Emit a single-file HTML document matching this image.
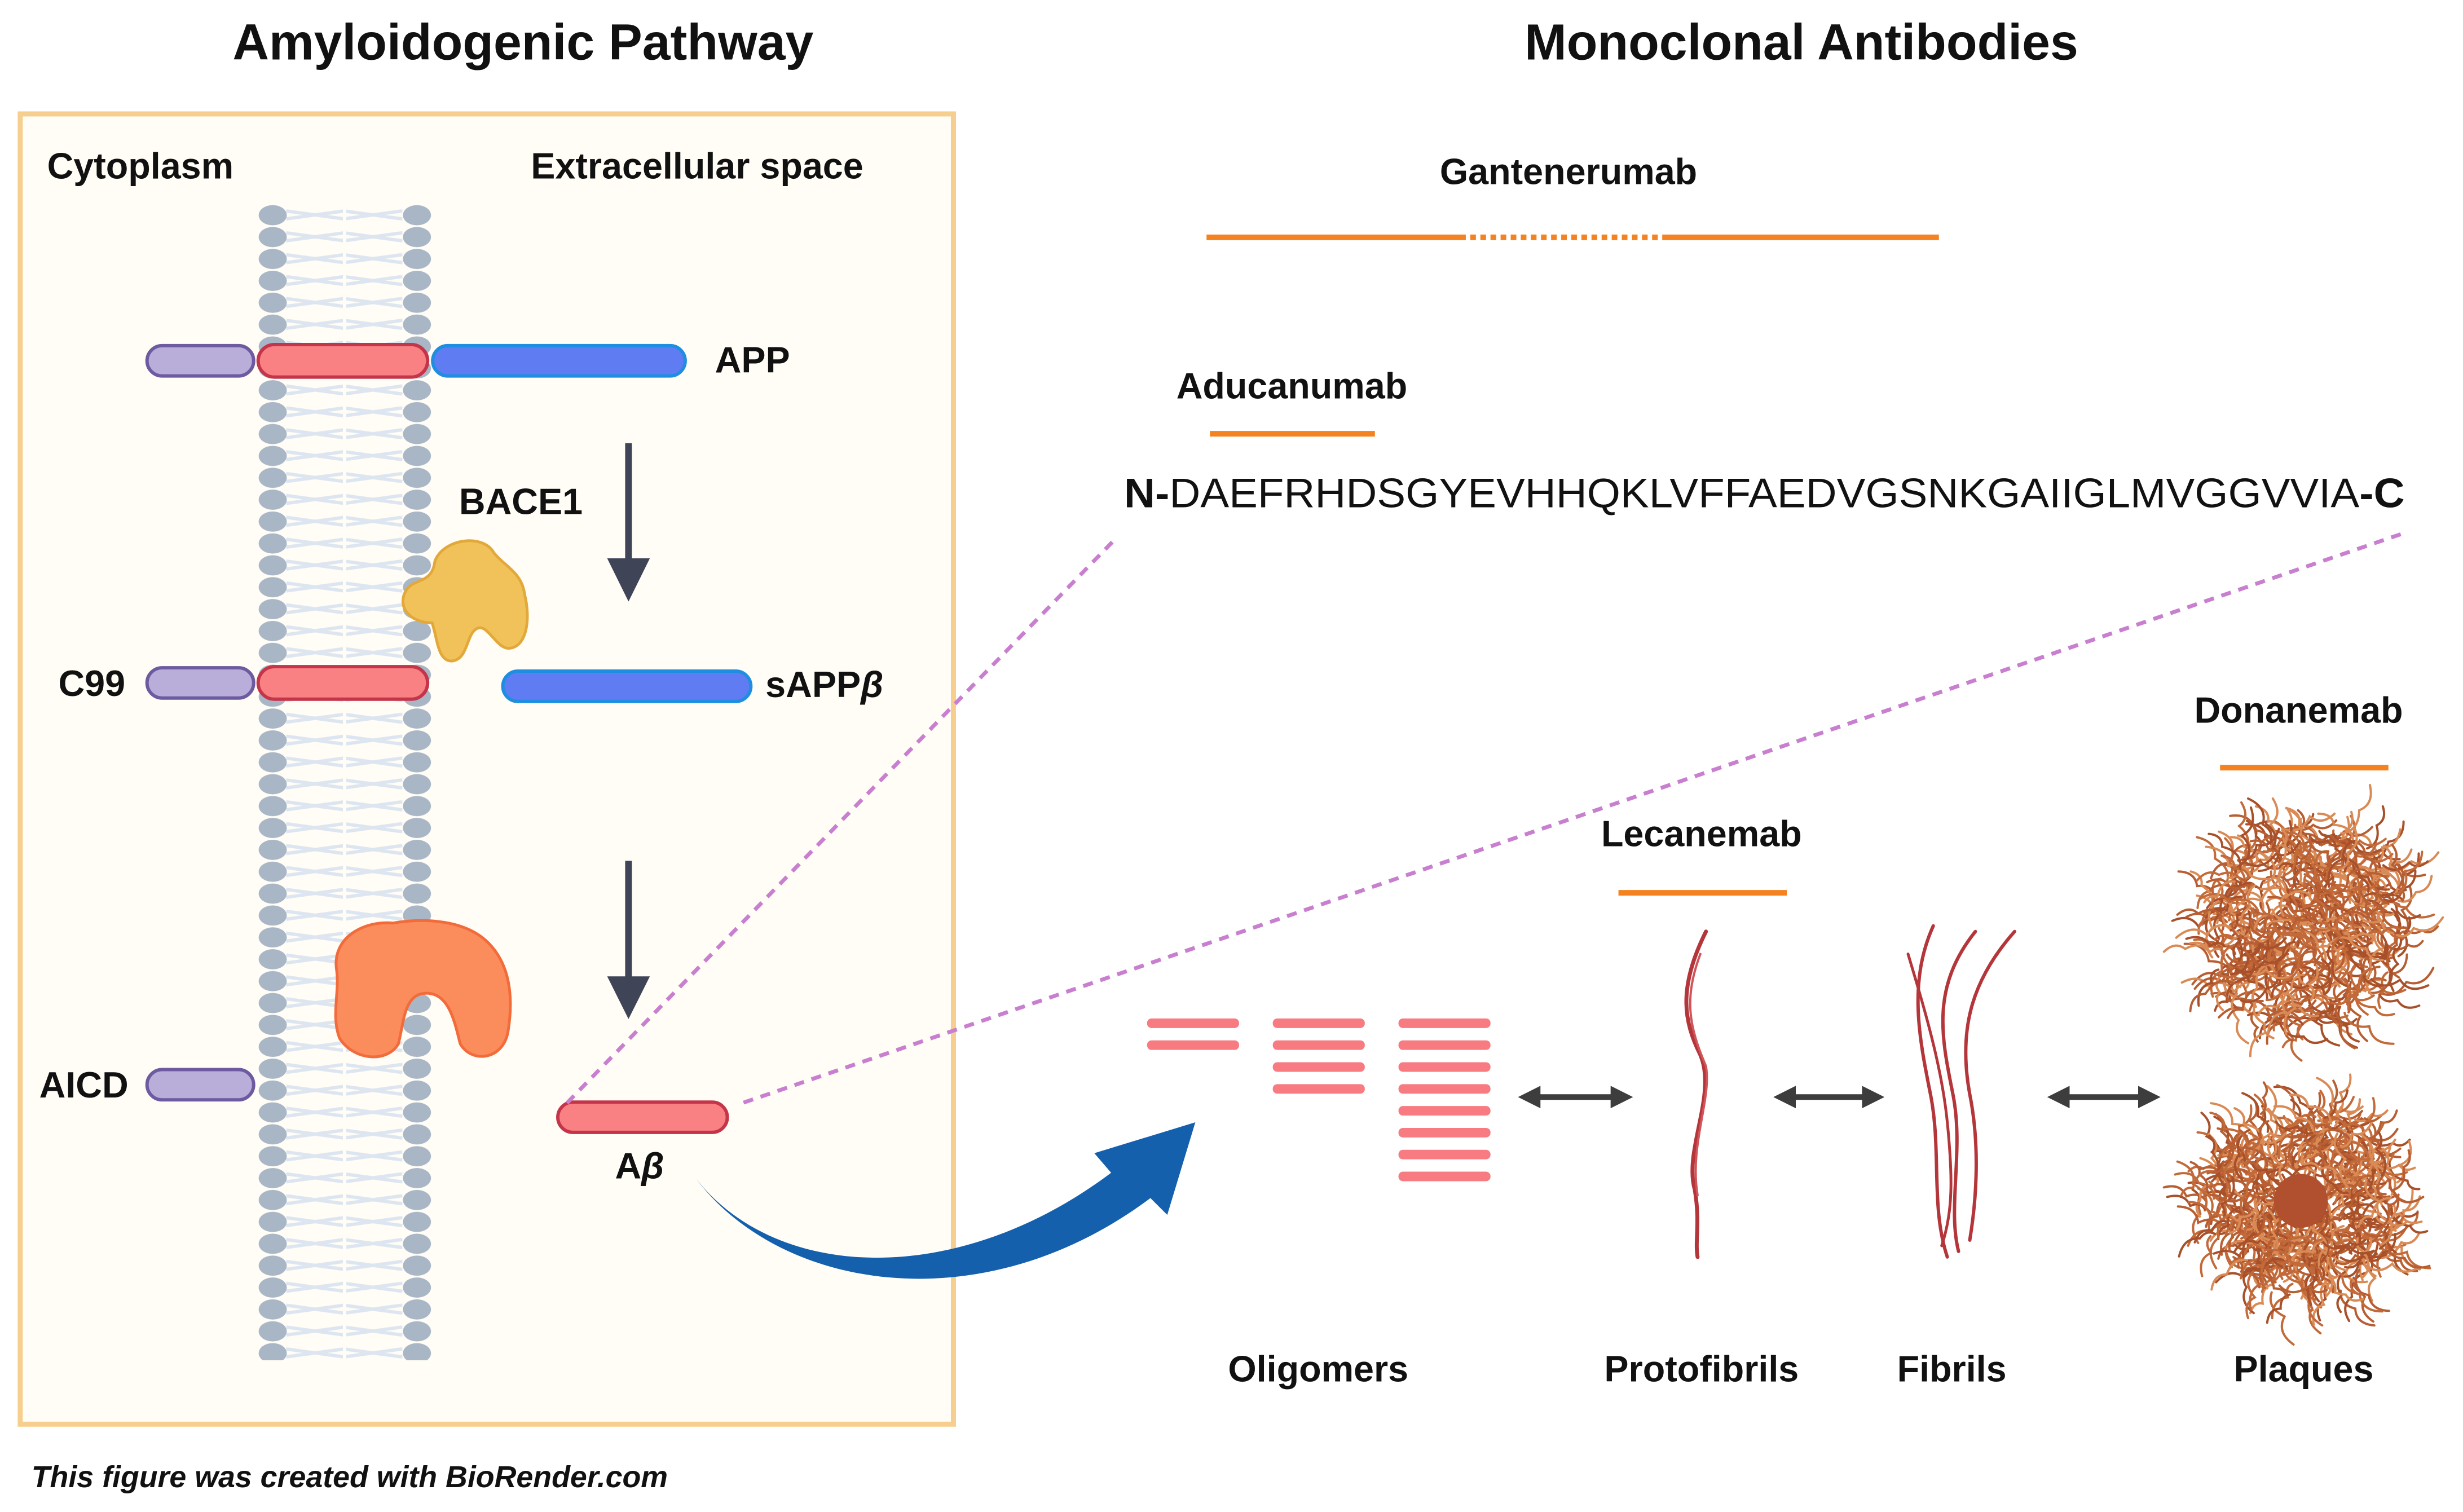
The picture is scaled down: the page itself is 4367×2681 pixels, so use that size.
<!DOCTYPE html>
<html><head><meta charset="utf-8"><style>
html,body{margin:0;padding:0;background:#fff}
svg{display:block}
text{font-family:"Liberation Sans",sans-serif}
</style></head><body>
<svg id="s" width="4367" height="2681" viewBox="0 0 4367 2681" xmlns="http://www.w3.org/2000/svg">
<defs>
<pattern id="beadsL" x="456" y="364" width="60" height="39" patternUnits="userSpaceOnUse">
<ellipse cx="30" cy="19.5" rx="25" ry="18" fill="#a9b6c6"/>
</pattern>
<pattern id="beadsR" x="713" y="364" width="60" height="39" patternUnits="userSpaceOnUse">
<ellipse cx="30" cy="19.5" rx="25" ry="18" fill="#a9b6c6"/>
</pattern>
<pattern id="tails" x="510" y="364" width="103" height="39" patternUnits="userSpaceOnUse">
<path d="M0 12 L103 26 M0 26 L103 12" stroke="#dde6f0" stroke-width="6"/>
</pattern>
<marker id="ah" viewBox="0 0 10 10" refX="5" refY="5" markerWidth="4" markerHeight="4" orient="auto-start-reverse"><path d="M0 0 L10 5 L0 10 z" fill="#3d3d3d"/></marker>
</defs>
<g transform="scale(0.995)">
<text x="932" y="106" font-size="90" font-weight="bold" text-anchor="middle" fill="#111">Amyloidogenic Pathway</text>
<text x="3210" y="106" font-size="90" font-weight="bold" text-anchor="middle" fill="#111">Monoclonal Antibodies</text>
<rect x="36" y="203" width="1663" height="2335" fill="#fffdf6" stroke="#f6cf8e" stroke-width="9"/>
<text x="84" y="318" font-size="65" font-weight="bold" fill="#111">Cytoplasm</text>
<text x="946" y="318" font-size="65" font-weight="bold" fill="#111">Extracellular space</text>
<rect x="510" y="364" width="207" height="2060" fill="url(#tails)"/>
<rect x="611" y="364" width="6" height="2060" fill="#fffdf6"/>
<rect x="456" y="364" width="60" height="2060" fill="url(#beadsL)"/>
<rect x="713" y="364" width="60" height="2060" fill="url(#beadsR)"/>
<g stroke-width="6">
<rect x="262" y="616" width="190" height="54" rx="27" fill="#b9aed9" stroke="#6d5aa0"/>
<rect x="460" y="614" width="302" height="58" rx="29" fill="#f98083" stroke="#c4354a"/>
<rect x="771" y="616" width="450" height="54" rx="27" fill="#5f7cf3" stroke="#1f8ee0"/>
<rect x="262" y="1190" width="190" height="54" rx="27" fill="#b9aed9" stroke="#6d5aa0"/>
<rect x="460" y="1188" width="302" height="58" rx="29" fill="#f98083" stroke="#c4354a"/>
<rect x="896" y="1196" width="442" height="54" rx="27" fill="#5f7cf3" stroke="#1f8ee0"/>
<rect x="262" y="1906" width="190" height="54" rx="27" fill="#b9aed9" stroke="#6d5aa0"/>
<rect x="994" y="1964" width="302" height="54" rx="27" fill="#f98083" stroke="#c4354a"/>
</g>
<text x="1274" y="664" font-size="65" font-weight="bold" fill="#111">APP</text>
<text x="818" y="916" font-size="65" font-weight="bold" fill="#111">BACE1</text>
<text x="104" y="1240" font-size="65" font-weight="bold" fill="#111">C99</text>
<text x="1364" y="1242" font-size="65" font-weight="bold" fill="#111">sAPP<tspan font-style="italic">β</tspan></text>
<text x="70" y="1956" font-size="65" font-weight="bold" fill="#111">AICD</text>
<text x="1096" y="2100" font-size="65" font-weight="bold" fill="#111">A<tspan font-style="italic">β</tspan></text>
<g fill="#3f4457" stroke="#3f4457">
<line x1="1120" y1="790" x2="1120" y2="1000" stroke-width="12"/>
<path d="M1082 995 L1158 995 L1120 1072 z" stroke="none"/>
<line x1="1120" y1="1534" x2="1120" y2="1745" stroke-width="12"/>
<path d="M1082 1740 L1158 1740 L1120 1816 z" stroke="none"/>
</g>
<path d="M775 1000 C790 960 860 950 880 985 C900 1010 930 1020 935 1060 C945 1100 940 1150 910 1155 C885 1160 870 1110 850 1120 C830 1130 835 1175 805 1178 C780 1178 780 1140 770 1110 C730 1110 705 1080 725 1050 C740 1030 770 1040 775 1000 z" fill="#f1c25a" stroke="#e2a93a" stroke-width="5"/>
<path d="M600 1730 C590 1670 650 1640 700 1645 C760 1635 830 1640 870 1680 C910 1720 915 1780 905 1840 C895 1890 840 1895 820 1860 C810 1820 800 1770 760 1770 C720 1770 720 1820 710 1860 C690 1895 630 1890 605 1850 C590 1810 605 1770 600 1730 z" fill="#fb8c5c" stroke="#f26b3b" stroke-width="5"/>
<g stroke="#c97fcf" stroke-width="7" stroke-dasharray="18 14" fill="none">
<line x1="1982" y1="966" x2="1008" y2="1968"/>
<line x1="4278" y1="952" x2="1316" y2="1968"/>
</g>
<path d="M1240 2100 C1380 2280 1700 2300 1980 2090 L1950 2055 L2130 2000 L2080 2165 L2050 2135 C1750 2360 1390 2300 1240 2100 z" fill="#1560ad"/>
<text x="2795" y="328" font-size="65" font-weight="bold" text-anchor="middle" fill="#111">Gantenerumab</text>
<g stroke="#f58220" stroke-width="10">
<line x1="2150" y1="423" x2="2612" y2="423"/>
<line x1="2620" y1="423" x2="2955" y2="423" stroke-dasharray="10 8"/>
<line x1="2962" y1="423" x2="3455" y2="423"/>
<line x1="2156" y1="773" x2="2450" y2="773"/>
<line x1="2884" y1="1591" x2="3184" y2="1591"/>
<line x1="3956" y1="1368" x2="4256" y2="1368"/>
</g>
<text x="2302" y="710" font-size="65" font-weight="bold" text-anchor="middle" fill="#111">Aducanumab</text>
<text x="3032" y="1508" font-size="65" font-weight="bold" text-anchor="middle" fill="#111">Lecanemab</text>
<text x="4096" y="1288" font-size="65" font-weight="bold" text-anchor="middle" fill="#111">Donanemab</text>
<text x="2003" y="904" font-size="74" fill="#111" textLength="2282" lengthAdjust="spacingAndGlyphs"><tspan font-weight="bold">N-</tspan>DAEFRHDSGYEVHHQKLVFFAEDVGSNKGAIIGLMVGGVVIA<tspan font-weight="bold">-C</tspan></text>
<g fill="#f77b80" id="olig"></g>
<g stroke="#3d3d3d" stroke-width="10" marker-start="url(#ah)" marker-end="url(#ah)">
<line x1="2725" y1="1955" x2="2890" y2="1955"/>
<line x1="3180" y1="1955" x2="3338" y2="1955"/>
<line x1="3668" y1="1955" x2="3830" y2="1955"/>
</g>
<g fill="none" stroke="#b4363a" stroke-linecap="round">
<path d="M3040 1660 C2990 1760 3000 1820 3030 1880 C3060 1950 3000 2050 3020 2120 C3030 2180 3020 2210 3025 2240" stroke-width="7"/>
<path d="M3030 1700 C3000 1780 3010 1830 3040 1900 C3050 1960 3010 2040 3025 2130" stroke-width="4" stroke="#d0555a"/>
<path d="M3445 1650 C3400 1750 3420 1850 3440 1950 C3460 2050 3440 2150 3470 2240" stroke-width="6"/>
<path d="M3520 1660 C3440 1760 3460 1850 3480 1950 C3500 2050 3470 2150 3490 2230" stroke-width="6"/>
<path d="M3590 1660 C3510 1750 3490 1840 3510 1950 C3530 2050 3520 2150 3510 2210" stroke-width="6"/>
<path d="M3400 1700 C3430 1800 3460 1900 3470 2000 C3480 2100 3480 2160 3460 2220" stroke-width="5"/>
</g>
<g id="plq" fill="none" stroke="#c26a3a" stroke-width="4" stroke-linecap="round"></g>
<circle cx="4100" cy="2140" r="48" fill="#b0502e"/>
<g font-size="65" font-weight="bold" text-anchor="middle" fill="#111">
<text x="2349" y="2462">Oligomers</text>
<text x="3032" y="2462">Protofibrils</text>
<text x="3478" y="2462">Fibrils</text>
<text x="4105" y="2462">Plaques</text>
</g>
<text x="56" y="2650" font-size="54" font-weight="bold" font-style="italic" fill="#111">This figure was created with BioRender.com</text>
</g>
</svg>
<script>
var ns="http://www.w3.org/2000/svg";
var o=document.getElementById("olig");
function bar(x,y){var r=document.createElementNS(ns,"rect");r.setAttribute("x",x);r.setAttribute("y",y);r.setAttribute("width",164);r.setAttribute("height",17);r.setAttribute("rx",8);o.appendChild(r);}
for(var i=0;i<2;i++)bar(2044,1815+i*39);
for(var i=0;i<4;i++)bar(2268,1815+i*39);
for(var i=0;i<8;i++)bar(2492,1815+i*39);
var seed=7;function rnd(){seed=(seed*16807)%2147483647;return seed/2147483647;}
var p=document.getElementById("plq");
function plaque(cx,cy,R,hole){
 var cols=["#c26a3a","#a8502a","#d98a55","#b85e33"];
 for(var k=0;k<480;k++){
  var a=rnd()*6.283,rr=hole?(hole+rnd()*(R-hole)):Math.sqrt(rnd())*R;
  var x=cx+Math.cos(a)*rr,y=cy+Math.sin(a)*rr,d="M"+x.toFixed(0)+" "+y.toFixed(0);
  var b=rnd()*6.283;
  for(var j=0;j<2;j++){var L=25+rnd()*30;b+=rnd()-0.5;var x2=x+Math.cos(b)*L,y2=y+Math.sin(b)*L;
   d+=" Q"+(x+Math.cos(b+0.8)*L*0.6).toFixed(0)+" "+(y+Math.sin(b+0.8)*L*0.6).toFixed(0)+" "+x2.toFixed(0)+" "+y2.toFixed(0);x=x2;y=y2;}
  var e=document.createElementNS(ns,"path");e.setAttribute("d",d);e.setAttribute("stroke",cols[k%4]);p.appendChild(e);}
}
plaque(4110,1652,180,0);
plaque(4102,2142,175,65);
</script>
</body></html>
